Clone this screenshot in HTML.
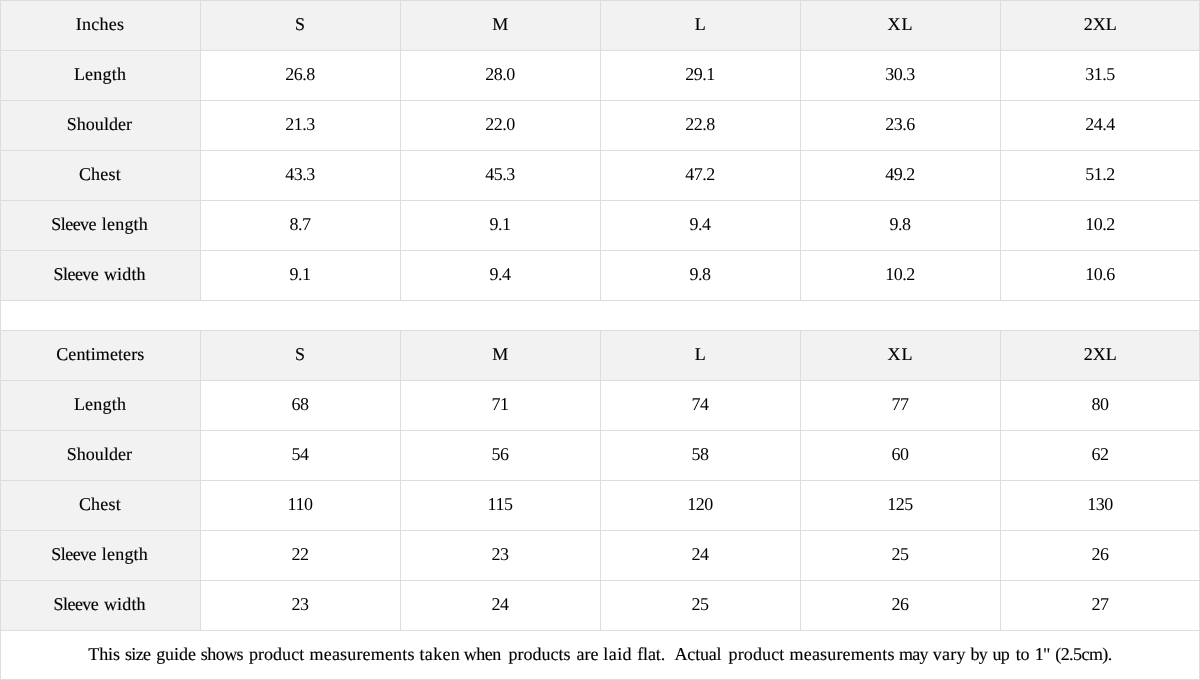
<!DOCTYPE html>
<html><head><meta charset="utf-8"><title>Size guide</title>
<style>
html,body{margin:0;padding:0;background:#fff;}
body{width:1200px;height:680px;overflow:hidden;font-family:"Liberation Serif",serif;color:#000;}
table{border-collapse:collapse;width:1199px;table-layout:fixed;font-size:18px;line-height:20px;text-rendering:geometricPrecision;will-change:transform;}
td,th{border:1px solid #ddd;text-align:center;vertical-align:middle;font-weight:normal;height:50px;box-sizing:border-box;padding:0 1px 3px 0;}
td:last-child,th:last-child{padding-right:0;}
th{background:#f2f2f2;-webkit-text-stroke:0.15px #000;}
td{letter-spacing:-0.5px;}
tr.gap td{height:30px;background:#fff;}
tr.note td{height:49px;letter-spacing:0;}
.ft{position:relative;height:20px;width:100%;text-align:left;-webkit-text-stroke:0.15px #000;}
.ft span{position:absolute;top:0;white-space:nowrap;}
</style></head><body>
<table>
<colgroup><col style="width:200px"><col style="width:200px"><col style="width:200px"><col style="width:200px"><col style="width:200px"><col style="width:199px"></colgroup>
<tr class="h"><th style="letter-spacing:0.24px;padding-right:1.18px;">Inches</th><th style="letter-spacing:0.00px;padding-right:1.00px;">S</th><th style="letter-spacing:0.00px;padding-left:0.54px;">M</th><th style="letter-spacing:0.00px;padding-left:0.61px;">L</th><th style="letter-spacing:0.90px;padding-left:1.04px;">XL</th><th style="letter-spacing:-0.05px;padding-left:0.51px;">2XL</th></tr>
<tr><th style="letter-spacing:0.20px;padding-right:1.02px;">Length</th><td>26.8</td><td>28.0</td><td>29.1</td><td>30.3</td><td>31.5</td></tr>
<tr><th style="letter-spacing:0.04px;padding-right:2.21px;">Shoulder</th><td>21.3</td><td>22.0</td><td>22.8</td><td>23.6</td><td>24.4</td></tr>
<tr><th style="letter-spacing:0.18px;padding-right:1.21px;">Chest</th><td>43.3</td><td>45.3</td><td>47.2</td><td>49.2</td><td>51.2</td></tr>
<tr><th style="letter-spacing:0;padding-right:1.63px"><span style="letter-spacing:-0.55px">Sleeve</span><span style="letter-spacing:0.22px;margin-left:1.00px"> length</span></th><td>8.7</td><td>9.1</td><td>9.4</td><td>9.8</td><td>10.2</td></tr>
<tr><th style="letter-spacing:0;padding-right:1.72px"><span style="letter-spacing:-0.54px">Sleeve</span><span style="letter-spacing:0.17px;margin-left:0.98px"> width</span></th><td>9.1</td><td>9.4</td><td>9.8</td><td>10.2</td><td>10.6</td></tr>
<tr class="gap"><td colspan="6"></td></tr>
<tr class="h"><th style="letter-spacing:0.11px;padding-left:0.68px;">Centimeters</th><th style="letter-spacing:0.00px;padding-right:1.00px;">S</th><th style="letter-spacing:0.00px;padding-left:0.54px;">M</th><th style="letter-spacing:0.00px;padding-left:0.61px;">L</th><th style="letter-spacing:0.90px;padding-left:1.04px;">XL</th><th style="letter-spacing:-0.05px;padding-left:0.51px;">2XL</th></tr>
<tr><th style="letter-spacing:0.20px;padding-right:1.02px;">Length</th><td>68</td><td>71</td><td>74</td><td>77</td><td>80</td></tr>
<tr><th style="letter-spacing:0.04px;padding-right:2.21px;">Shoulder</th><td>54</td><td>56</td><td>58</td><td>60</td><td>62</td></tr>
<tr><th style="letter-spacing:0.18px;padding-right:1.21px;">Chest</th><td>110</td><td>115</td><td>120</td><td>125</td><td>130</td></tr>
<tr><th style="letter-spacing:0;padding-right:1.63px"><span style="letter-spacing:-0.55px">Sleeve</span><span style="letter-spacing:0.22px;margin-left:1.00px"> length</span></th><td>22</td><td>23</td><td>24</td><td>25</td><td>26</td></tr>
<tr><th style="letter-spacing:0;padding-right:1.72px"><span style="letter-spacing:-0.54px">Sleeve</span><span style="letter-spacing:0.17px;margin-left:0.98px"> width</span></th><td>23</td><td>24</td><td>25</td><td>26</td><td>27</td></tr>
<tr class="note"><td colspan="6"><div class="ft"><span style="left:87.32px;letter-spacing:-0.14px">This</span> <span style="left:124.05px;letter-spacing:-0.70px">size</span> <span style="left:155.16px;letter-spacing:-0.06px">guide</span> <span style="left:199.85px;letter-spacing:-0.56px">shows</span> <span style="left:247.93px;letter-spacing:0.05px">product</span> <span style="left:308.55px;letter-spacing:0.17px">measurements</span> <span style="left:418.54px;letter-spacing:0.32px">taken</span> <span style="left:462.82px;letter-spacing:-0.53px">when</span> <span style="left:507.50px;letter-spacing:0.00px">products</span> <span style="left:575.50px;letter-spacing:0.00px">are</span> <span style="left:602.21px;letter-spacing:0.47px">laid</span> <span style="left:636.22px;letter-spacing:-0.13px">flat.</span>&nbsp; <span style="left:673.57px;letter-spacing:-0.19px">Actual</span> <span style="left:727.53px;letter-spacing:0.14px">product</span> <span style="left:788.55px;letter-spacing:0.17px">measurements</span> <span style="left:897.96px;letter-spacing:-0.70px">may</span> <span style="left:931.85px;letter-spacing:0.26px">vary</span> <span style="left:969.39px;letter-spacing:-0.70px">by</span> <span style="left:991.39px;letter-spacing:-0.70px">up</span> <span style="left:1014.87px;letter-spacing:-0.47px">to</span> <span style="left:1033.80px;letter-spacing:-0.70px">1"</span> <span style="left:1054.28px;letter-spacing:-0.57px">(2.5cm).</span></div></td></tr>
</table>
</body></html>
